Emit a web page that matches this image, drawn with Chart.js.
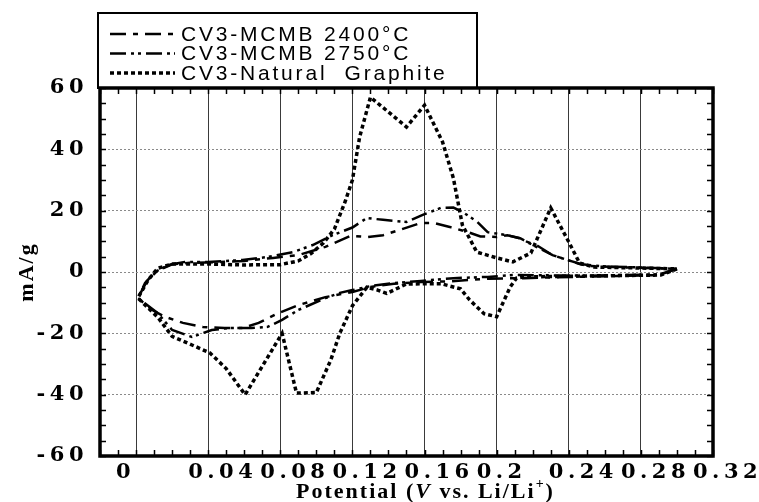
<!DOCTYPE html>
<html>
<head>
<meta charset="utf-8">
<script src="https://cdn.jsdelivr.net/npm/chart.js@4.4.1/dist/chart.umd.min.js"></script>
<style>
    html, body { margin: 0; padding: 0; background: #fff; }
    #wrap { width: 759px; height: 502px; }
</style>
</head>
<body>
<div id="wrap"><canvas id="cv" width="759" height="502"></canvas></div>
<script>
// series names as in the legend
const seriesLabels = ['CV3-MCMB 2400°C', 'CV3-MCMB 2750°C', 'CV3-Natural  Graphite'];

// MCMB 2400°C : cathodic sweep (right to left) then anodic sweep back
const potential2400 = [0.300, 0.290, 0.250, 0.215, 0.195, 0.175, 0.158, 0.143, 0.130, 0.120, 0.105, 0.090, 0.079, 0.068, 0.059, 0.049, 0.037, 0.026, 0.016, 0.009, 0.001,
    0.006, 0.012, 0.020, 0.030, 0.045, 0.060, 0.076, 0.090, 0.105, 0.119, 0.128, 0.137, 0.146, 0.158, 0.165, 0.174, 0.184, 0.191, 0.200, 0.206, 0.213, 0.217, 0.222, 0.231, 0.240, 0.250, 0.270, 0.300];
const current2400 = [1.0, -1.0, -1.5, -2.0, -2.2, -3.0, -3.3, -3.8, -4.9, -6.5, -8.2, -10.8, -13.4, -16.6, -18.3, -18.3, -17.9, -16.6, -14.6, -12.4, -8.5,
    -3.0, 0.5, 2.5, 3.0, 3.2, 3.6, 4.6, 5.5, 8.2, 11.8, 11.4, 12.0, 13.7, 16.0, 16.0, 14.7, 13.0, 11.6, 11.4, 12.0, 11.0, 9.8, 8.8, 5.5, 3.8, 2.0, 1.5, 1.0];

// MCMB 2750°C
const potential2750 = [0.300, 0.290, 0.250, 0.209, 0.195, 0.176, 0.158, 0.143, 0.130, 0.120, 0.113, 0.105, 0.090, 0.081, 0.073, 0.064, 0.051, 0.042, 0.031, 0.020, 0.012, 0.001,
    0.005, 0.0105, 0.018, 0.027, 0.040, 0.059, 0.073, 0.087, 0.098, 0.109, 0.120, 0.128, 0.137, 0.150, 0.159, 0.169, 0.176, 0.181, 0.189, 0.195, 0.206, 0.213, 0.220, 0.231, 0.246, 0.260, 0.280, 0.300];
const current2750 = [1.0, -0.8, -1.2, -1.0, -1.6, -2.0, -2.9, -3.6, -4.6, -5.9, -6.8, -8.5, -12.4, -15.6, -17.9, -18.3, -18.3, -18.9, -21.2, -18.9, -13.4, -8.5,
    -3.6, 0.0, 2.3, 3.3, 3.3, 3.9, 4.9, 6.5, 8.8, 12.0, 14.5, 17.6, 17.0, 16.3, 18.6, 20.9, 21.0, 19.6, 16.5, 13.0, 12.0, 11.0, 8.8, 5.5, 2.6, 1.8, 1.5, 1.0];

// Natural graphite
const potentialNG = [0.300, 0.291, 0.250, 0.215, 0.211, 0.2075, 0.200, 0.193, 0.185, 0.180, 0.169, 0.150, 0.139, 0.134, 0.128, 0.120, 0.113, 0.108, 0.100, 0.089, 0.081, 0.0605, 0.050, 0.041, 0.031, 0.020, 0.012, 0.001,
    0.0067, 0.012, 0.020, 0.040, 0.060, 0.080, 0.090, 0.097, 0.104, 0.110, 0.116, 0.120, 0.124, 0.130, 0.150, 0.160, 0.170, 0.176, 0.181, 0.189, 0.200, 0.209, 0.219, 0.230, 0.240, 0.246, 0.254, 0.280, 0.300];
const currentNG = [1.0, -1.0, -1.3, -1.6, -2.0, -4.9, -14.6, -13.6, -9.1, -5.5, -3.8, -3.9, -7.0, -5.9, -5.0, -11.0, -20.0, -28.7, -39.3, -39.5, -20.0, -40.0, -31.5, -26.4, -23.8, -21.0, -14.7, -8.5,
    -2.6, 1.2, 2.6, 2.6, 2.3, 2.4, 3.6, 6.0, 9.5, 14.0, 23.0, 30.0, 44.0, 57.0, 47.3, 54.4, 42.4, 30.6, 15.3, 6.5, 4.6, 3.3, 6.2, 20.9, 9.8, 2.9, 1.6, 1.3, 1.0];

// axis ticks
const xTickValues = [0, 0.04, 0.08, 0.12, 0.16, 0.2, 0.24, 0.28, 0.32];
const xTickLabels = ['0', '0.04', '0.08', '0.12', '0.16', '0.2', '0.24', '0.28', '0.32'];
const yTickValues = [-60, -40, -20, 0, 20, 40, 60];

function toPoints(xs, ys) {
    return xs.map((x, i) => ({ x: x, y: ys[i] }));
}

const serifBold = '"Liberation Serif", "Times New Roman", serif';

// frame, minor ticks, legend box and axis titles
const decor = {
    id: 'decor',
    beforeDraw(chart) {
        // the scanned tick labels are widely spaced
        chart.ctx.letterSpacing = '4.5px';
    },
    afterDraw(chart) {
        const { ctx, chartArea: a, scales: { x, y } } = chart;
        ctx.save();
        ctx.letterSpacing = '0px';
        ctx.strokeStyle = '#000';
        ctx.fillStyle = '#000';

        // minor ticks pointing inwards
        ctx.lineWidth = 1.5;
        ctx.beginPath();
        for (let v = x.min; v <= x.max + 1e-9; v += 0.01) {
            const px = Math.round(x.getPixelForValue(v)) + 0.5;
            ctx.moveTo(px, a.bottom); ctx.lineTo(px, a.bottom - 6);
            ctx.moveTo(px, a.top); ctx.lineTo(px, a.top + 6);
        }
        for (let v = y.min; v <= y.max; v += 5) {
            const py = Math.round(y.getPixelForValue(v)) + 0.5;
            ctx.moveTo(a.left, py); ctx.lineTo(a.left + 6, py);
            ctx.moveTo(a.right, py); ctx.lineTo(a.right - 6, py);
        }
        ctx.stroke();

        // heavy plot frame
        ctx.lineWidth = 3.5;
        ctx.strokeRect(a.left, a.top, a.right - a.left, a.bottom - a.top);

        // legend box sitting on top of the frame
        ctx.lineWidth = 2;
        ctx.strokeRect(a.left - 2, 13, 379, a.top - 13);
        ctx.font = '21px "Liberation Sans", Arial, sans-serif';
        ctx.letterSpacing = '2.8px';
        ctx.textBaseline = 'middle';
        ctx.textAlign = 'left';
        chart.data.datasets.forEach((ds, i) => {
            const cy = 34 + i * 19.5;
            ctx.save();
            ctx.setLineDash(ds.borderDash);
            ctx.lineWidth = ds.borderWidth;
            ctx.beginPath();
            ctx.moveTo(110, cy);
            ctx.lineTo(175, cy);
            ctx.stroke();
            ctx.restore();
            ctx.fillText(ds.label, 181, cy + 1);
        });

        // y title
        ctx.letterSpacing = '2px';
        ctx.font = 'bold 22px ' + serifBold;
        ctx.save();
        ctx.translate(27, (a.top + a.bottom) / 2);
        ctx.rotate(-Math.PI / 2);
        ctx.textAlign = 'center';
        ctx.fillText('mA/g', 0, 0);
        ctx.restore();

        // x title with italic V and superscript +
        const parts = [
            { t: 'Potential (', f: 'bold 22px ' + serifBold, dy: 0 },
            { t: 'V', f: 'italic bold 22px ' + serifBold, dy: 0 },
            { t: ' vs. Li/Li', f: 'bold 22px ' + serifBold, dy: 0 },
            { t: '+', f: 'bold 14px ' + serifBold, dy: -8 },
            { t: ')', f: 'bold 22px ' + serifBold, dy: 0 }
        ];
        let total = 0;
        parts.forEach(p => { ctx.font = p.f; p.w = ctx.measureText(p.t).width; total += p.w; });
        let cx = (a.left + a.right) / 2 + 19 - total / 2;
        ctx.textAlign = 'left';
        parts.forEach(p => {
            ctx.font = p.f;
            ctx.fillText(p.t, cx, 492 + p.dy);
            cx += p.w;
        });
        ctx.restore();
    }
};

const tickFont = { family: '"DejaVu Serif", serif', size: 21, weight: 'bold' };

new Chart(document.getElementById('cv'), {
    type: 'scatter',
    data: {
        datasets: [
            {
                label: seriesLabels[0],
                data: toPoints(potential2400, current2400),
                showLine: true,
                borderColor: '#000',
                borderWidth: 2.5,
                borderDash: [16, 7, 5, 7],
                pointRadius: 0,
                tension: 0,
                fill: false
            },
            {
                label: seriesLabels[1],
                data: toPoints(potential2750, current2750),
                showLine: true,
                borderColor: '#000',
                borderWidth: 2.5,
                borderDash: [16, 5, 3, 4, 3, 5],
                pointRadius: 0,
                tension: 0,
                fill: false
            },
            {
                label: seriesLabels[2],
                data: toPoints(potentialNG, currentNG),
                showLine: true,
                borderColor: '#000',
                borderWidth: 3.5,
                borderDash: [4, 3],
                pointRadius: 0,
                tension: 0,
                fill: false
            }
        ]
    },
    options: {
        responsive: false,
        animation: false,
        events: [],
        layout: { padding: { top: 88, right: 46, left: 0, bottom: 0 } },
        plugins: {
            legend: { display: false },
            tooltip: { enabled: false }
        },
        scales: {
            x: {
                type: 'linear',
                min: -0.02,
                max: 0.32,
                afterBuildTicks: s => { s.ticks = xTickValues.map(v => ({ value: v })); },
                afterFit: s => { s.height = 46; s.paddingLeft = 0; s.paddingRight = 0; },
                ticks: {
                    autoSkip: false,
                    maxRotation: 0,
                    align: 'start',
                    labelOffset: -20,
                    padding: 4,
                    color: '#000',
                    font: tickFont,
                    callback: (v, i) => xTickLabels[i]
                },
                grid: { color: '#3a3a3a', lineWidth: 1, drawTicks: false },
                border: { display: false }
            },
            y: {
                min: -60,
                max: 60,
                afterBuildTicks: s => { s.ticks = yTickValues.map(v => ({ value: v })); },
                afterFit: s => { s.width = 100; s.paddingTop = 0; s.paddingBottom = 0; },
                ticks: { padding: 12, color: '#000', font: tickFont },
                grid: { color: '#8a8a8a', lineWidth: 1, drawTicks: false },
                border: { display: false, dash: [2, 2] }
            }
        }
    },
    plugins: [decor]
});
</script>
</body>
</html>
